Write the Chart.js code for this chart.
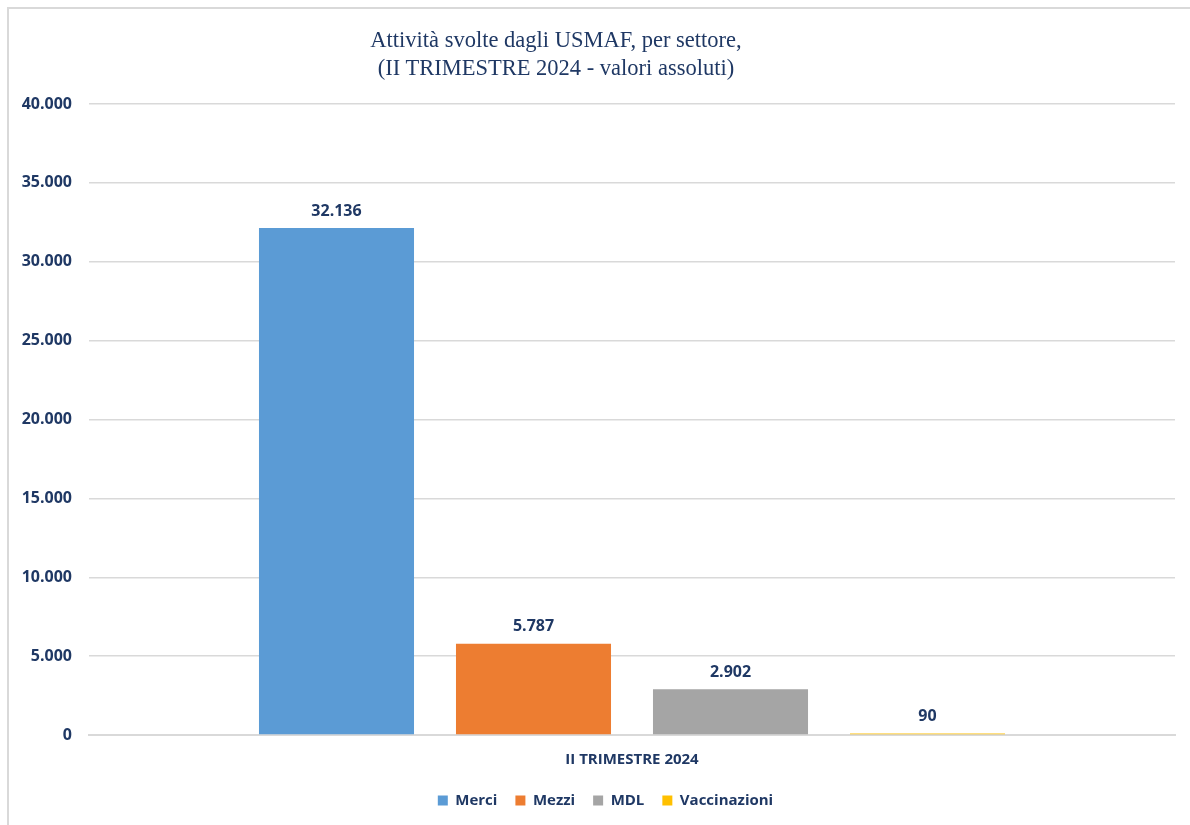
<!DOCTYPE html>
<html>
<head>
<meta charset="utf-8">
<script src="https://cdn.jsdelivr.net/npm/chart.js@4.4.1/dist/chart.umd.min.js"></script>
<style>
  html, body { margin: 0; padding: 0; background: #fff; }
  #wrap { position: relative; width: 1190px; height: 825px; overflow: hidden; }
  #frame { position: absolute; left: 7px; top: 7px; width: 1200px; height: 840px; border: 2px solid #d9d9d9; box-sizing: border-box; }
  #title { position: absolute; left: 336px; width: 440px; top: 26px; text-align: center;
           font-family: "Liberation Serif", serif; font-size: 22.5px; line-height: 28px; color: #1f3864; }
  canvas { position: absolute; left: 0; top: 0; }
</style>
</head>
<body>
<div id="wrap">
  <div id="frame"></div>
  <canvas id="barChart" width="1190" height="825"></canvas>
  <div id="title">Attività svolte dagli USMAF, per settore,<br>(II TRIMESTRE 2024 - valori assoluti)</div>
</div>
<script>
// dati del grafico
const categories = ['II TRIMESTRE 2024'];
const seriesNames = ['Merci', 'Mezzi', 'MDL', 'Vaccinazioni'];
const seriesValues = [32136, 5787, 2902, 90];
const seriesColors = ['#5b9bd5', '#ed7d31', '#a5a5a5', '#ffc000'];
const yTicks = [0, 5000, 10000, 15000, 20000, 25000, 30000, 35000, 40000];

const navy = '#1f3864';

// formato italiano con il punto come separatore delle migliaia
const formatNumber = (value) => String(Math.round(value)).replace(/\B(?=(\d{3})+(?!\d))/g, '.');

// etichette dei valori sopra le barre
const valueLabels = {
    id: 'valueLabels',
    afterDatasetsDraw(chart) {
        const ctx = chart.ctx;
        ctx.save();
        ctx.font = 'bold 16px "Open Sans", sans-serif';
        ctx.fillStyle = navy;
        ctx.textAlign = 'center';
        ctx.textBaseline = 'middle';
        chart.data.datasets.forEach((ds, i) => {
            chart.getDatasetMeta(i).data.forEach((bar, j) => {
                ctx.fillText(formatNumber(ds.data[j]), bar.x, bar.y - 17);
            });
        });
        ctx.restore();
    }
};

// sposta la legenda come nel grafico originale (un po' a destra e più in alto)
const legendShift = {
    id: 'legendShift',
    afterLayout(chart) {
        const lg = chart.legend;
        if (!lg) return;
        lg.left += 18; lg.right += 18;
        lg.top -= 10; lg.bottom -= 10;
    }
};

const ctx = document.getElementById('barChart').getContext('2d');
const barChart = new Chart(ctx, {
    type: 'bar',
    data: {
        labels: categories,
        datasets: seriesNames.map((name, i) => ({
            label: name,
            data: [seriesValues[i]],
            backgroundColor: seriesColors[i],
            borderWidth: 0,
            categoryPercentage: 0.7256,
            barPercentage: 0.787
        }))
    },
    options: {
        responsive: false,
        animation: false,
        devicePixelRatio: 1,
        layout: { padding: { left: 0, right: 15, top: 104, bottom: -3 } },
        scales: {
            y: {
                min: 0,
                max: 40000,
                afterBuildTicks: (scale) => { scale.ticks = yTicks.map(v => ({ value: v })); },
                afterFit: (scale) => { scale.width = 89; },
                ticks: {
                    padding: 17,
                    color: navy,
                    font: { family: '"Open Sans", sans-serif', size: 16, weight: 'bold' },
                    callback: (value) => formatNumber(value)
                },
                grid: { color: '#d9d9d9', lineWidth: 1.5, drawTicks: false },
                border: { display: false }
            },
            x: {
                ticks: {
                    padding: 16,
                    color: navy,
                    font: { family: '"Open Sans", sans-serif', size: 15, weight: 'bold' }
                },
                grid: { display: false, drawTicks: false },
                border: { color: '#d9d9d9', width: 2 }
            }
        },
        plugins: {
            legend: {
                position: 'bottom',
                labels: {
                    boxWidth: 10,
                    boxHeight: 10,
                    padding: 18,
                    color: navy,
                    font: { family: '"Open Sans", sans-serif', size: 15, weight: 'bold' }
                }
            },
            title: { display: false },
            tooltip: { enabled: false }
        }
    },
    plugins: [valueLabels, legendShift]
});
</script>
</body>
</html>
